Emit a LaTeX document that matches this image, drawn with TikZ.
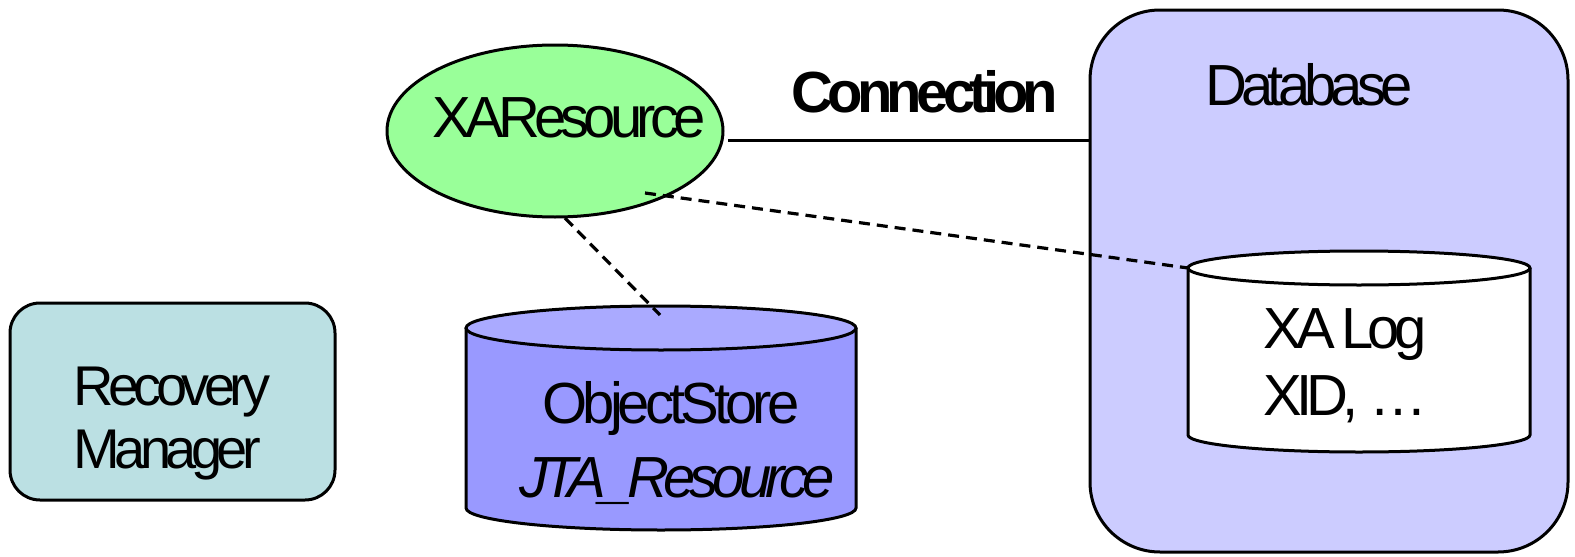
\documentclass[tikz,border=0pt]{standalone}
\usepackage{fontspec}
\setmainfont{Liberation Sans}[LetterSpace=-10]
\newfontfamily\storefont{Liberation Sans}[LetterSpace=-8.5]
\usetikzlibrary{calc,shapes.geometric}
\definecolor{xagreen}{HTML}{99FF99}
\definecolor{dbblue}{HTML}{CCCCFF}
\definecolor{osbody}{HTML}{9999FF}
\definecolor{ostop}{HTML}{AAAAFF}
\definecolor{rmteal}{HTML}{BBE0E3}
\tikzset{
  outline/.style={draw=black, line width=1.5pt},
  label28/.style={font=\fontsize{29}{34}\selectfont, inner sep=0pt},
  label23/.style={font=\fontsize{28}{32}\selectfont, inner sep=0pt},
  dashlink/.style={line width=1.6pt, dash pattern=on 5.5pt off 3.5pt},
}
\begin{document}
\begin{tikzpicture}[x=0.5pt, y=-0.5pt]
\useasboundingbox (0,0) rectangle (1575,557);

% Database container
\node[outline, fill=dbblue, rounded corners=35pt, minimum width=239pt, minimum height=271pt, inner sep=0pt] (db) at (1329,281) {};
\node[label28, anchor=base] (dbtext) at (1309,105) {Database};

% XA log cylinder inside the database
\fill[white] (1188,268) -- (1188,435) arc (180:0:171 and 17) -- (1530,268) arc (0:180:171 and 17) -- cycle;
\draw[line width=1.5pt] (1188,268) -- (1188,435) arc (180:0:171 and 17) -- (1530,268);
\draw[line width=1.5pt, fill=white] (1359,268) ellipse (171 and 17);
\coordinate (logtop) at (1188,268);
\node[label28, anchor=base west] (xalog) at (1263,348) {XA\hspace{-2pt} Log};
\node[label28, anchor=base west] (xid) at (1263,415) {XID, \dots};

% ObjectStore cylinder
\fill[osbody] (466,328) -- (466,508) arc (180:0:195 and 22) -- (856,328) arc (0:180:195 and 22) -- cycle;
\draw[line width=1.5pt] (466,328) -- (466,508) arc (180:0:195 and 22) -- (856,328);
\draw[line width=1.5pt, fill=ostop] (661,328) ellipse (195 and 22);
\coordinate (ostore) at (660,315);
\node[label28, anchor=base] (ostext) at (671,423) {\storefont ObjectStore};
\node[label28, anchor=base] (jtatext) at (677,497) {\itshape JTA\_Resource};

% Recovery manager
\node[outline, fill=rmteal, rounded corners=15pt, minimum width=162.5pt, minimum height=98.5pt, inner sep=0pt] (rm) at (172.5,401.5) {};
\node[label23, anchor=base west] (rm1) at (73,405) {Recovery};
\node[label23, anchor=base west] (rm2) at (73,468) {Manager};

% XAResource
\node[outline, fill=xagreen, ellipse, minimum width=168pt, minimum height=86pt, inner sep=0pt] (xa) at (555,131) {};
\node[label28, anchor=base] (xatext) at (569,137) {XAResource};

% Connection
\coordinate (connL) at (728,140);
\draw[line width=1.5pt] (connL) -- (db.west |- connL);
\node[label28, anchor=base] (conntext) at (925,112) {\bfseries Connection};

% Dashed links
\coordinate (xaA) at (645,193);
\coordinate (xaB) at (565,218);
\draw[dashlink] (xaA) -- (logtop);
\draw[dashlink] (xaB) -- (ostore);
\end{tikzpicture}
\end{document}
